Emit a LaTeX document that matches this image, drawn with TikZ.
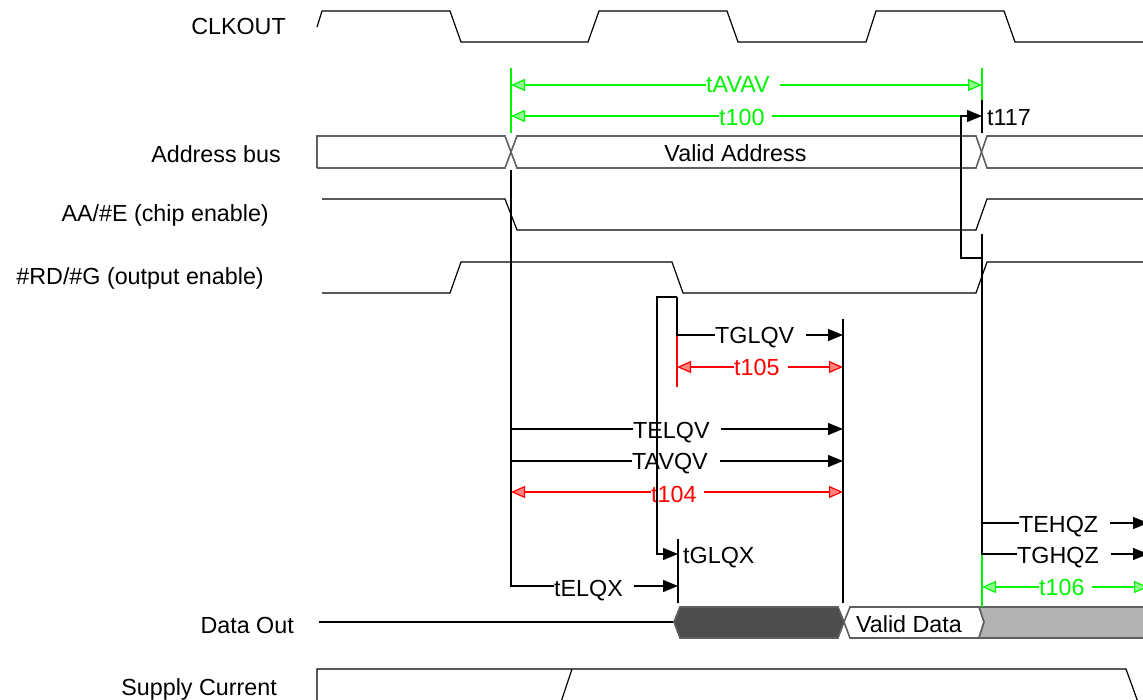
\documentclass[tikz,border=0pt]{standalone}
\usepackage{fontspec}
\setmainfont{Liberation Sans}
\usetikzlibrary{arrows.meta}
\definecolor{lgreen}{RGB}{0,245,0}
\definecolor{lgfill}{RGB}{140,255,140}
\definecolor{lred}{RGB}{255,0,0}
\definecolor{lrfill}{RGB}{255,130,130}
\definecolor{darkbus}{RGB}{77,77,77}
\definecolor{lightbus}{RGB}{179,179,179}
\definecolor{busline}{RGB}{95,95,95}
\begin{document}
\begin{tikzpicture}[x=1pt,y=-1pt,
  font=\fontsize{23.3}{28}\selectfont,
  sig/.style={line width=1.2pt, black},
  busedge/.style={line width=1.6pt, busline},
  barr/.style={line width=1.2pt, black, -{Triangle[length=15pt,width=12pt]}},
  gdim/.style={line width=1.2pt, lgreen, {Triangle[length=14pt,width=12pt,fill=lgfill]}-{Triangle[length=14pt,width=12pt,fill=lgfill]}},
  gleft/.style={line width=1.2pt, lgreen, {Triangle[length=14pt,width=12pt,fill=lgfill]}-},
  rdim/.style={line width=1.2pt, lred, {Triangle[length=14pt,width=12pt,fill=lrfill]}-{Triangle[length=14pt,width=12pt,fill=lrfill]}},
  gext/.style={line width=1.2pt, lgreen},
  rext/.style={line width=1.2pt, lred},
  bext/.style={line width=1.2pt, black},
  lbl/.style={fill=white, inner xsep=0pt, inner ysep=1pt, anchor=base west},
  signame/.style={anchor=base east, inner sep=0pt}]
\useasboundingbox (0,0) rectangle (1143,700);
\clip (0,0) rectangle (1143,700);

% ---------- signal names ----------
\node[signame] (nclk) at (286,35) {CLKOUT};
\node[signame] (naddr) at (281,163) {Address bus};
\node[signame] (nce) at (269,222) {AA/\#E (chip enable)};
\node[signame] (noe) at (264,285) {\#RD/\#G (output enable)};
\node[signame] (ndata) at (294,633) {Data Out};
\node[signame] (nsup) at (277,695) {Supply Current};

% ---------- waveforms ----------
\draw[sig] (317,27)--(322,11)--(450,11)--(461,42)--(588,42)--(599,11)--(727,11)--(738,42)--(866,42)--(876,11)--(1004,11)--(1015,42)--(1150,42);
% address bus
\draw[busedge] (317,168)--(317,136)--(505,136)--(517,168)--(976,168)--(987,136)--(1150,136);
\draw[busedge] (317,168)--(505,168)--(517,136)--(976,136)--(987,168)--(1150,168);
\node[anchor=base, inner sep=0pt] (vaddr) at (735.5,162) {Valid Address};
% chip enable
\draw[sig] (322,199)--(505,199)--(517,230)--(976,230)--(987,199)--(1150,199);
% output enable
\draw[sig] (322,293)--(450,293)--(461,262)--(672,262)--(683,293)--(976,293)--(987,262)--(1150,262);
% data out
\draw[sig] (319,622)--(674,622);
\draw[busedge, fill=darkbus] (674,622)--(680,607)--(838,607)--(844,622)--(838,638)--(680,638)--cycle;
\draw[busedge, fill=white] (844,622)--(850,607)--(979,607)--(984,622)--(979,638)--(850,638)--cycle;
\draw[busedge, fill=lightbus] (979,607)--(1150,607)--(1150,638)--(979,638)--(984,622)--cycle;
\node[anchor=base, inner sep=0pt] (vdata) at (909,632) {Valid Data};
% supply current
\draw[sig] (317,705)--(317,669)--(1126,669)--(1139,705);
\draw[sig] (560,705)--(572,669);

% ---------- named timing coordinates ----------
\coordinate (aL1) at (511,85);  \coordinate (aR1) at (982,85);
\coordinate (aL2) at (511,116); \coordinate (tA) at (961,116);
\coordinate (tB) at (982,116);  \coordinate (tC) at (961,258);
\coordinate (tD) at (982,258);
\coordinate (gA) at (677,297);  \coordinate (gB) at (657,297);
\coordinate (gC) at (677,335);  \coordinate (gD) at (843,335);
\coordinate (gE) at (657,554);  \coordinate (gF) at (678,554);
\coordinate (r1L) at (677,367); \coordinate (r1R) at (843,367);
\coordinate (eA) at (511,429);  \coordinate (eB) at (843,429);
\coordinate (vA) at (511,461);  \coordinate (vB) at (843,461);
\coordinate (r2L) at (511,492); \coordinate (r2R) at (843,492);
\coordinate (xTop) at (511,170); \coordinate (xBot) at (511,586);
\coordinate (xEnd) at (678,586);
\coordinate (hA) at (982,523);  \coordinate (hB) at (1148,523);
\coordinate (hC) at (982,554);  \coordinate (hD) at (1148,554);
\coordinate (hE) at (982,587);  \coordinate (hF) at (1148,587);

% ---------- horizontal timing arrows ----------
\draw[gdim] (aL1) -- (aR1);
\draw[gleft] (aL2) -- (tA);
\draw[barr] (tD) -- (tC) -- (tA) -- (tB);
\draw[barr] (gA) -- (gC) -- (gD);
\draw[barr] (gA) -- (gB) -- (gE) -- (gF);
\draw[rdim] (r1L) -- (r1R);
\draw[barr] (eA) -- (eB);
\draw[barr] (vA) -- (vB);
\draw[rdim] (r2L) -- (r2R);
\draw[barr] (xTop) -- (xBot) -- (xEnd);
\draw[barr] (hA) -- (hB);
\draw[barr] (hC) -- (hD);
\draw[gdim] (hE) -- (hF);

% ---------- labels ----------
\node[lbl, text=lgreen] (ltavav) at (706,93) {tAVAV\kern10pt};
\node[lbl, text=lgreen] (lt100) at (719,126) {t100\kern7pt};
\node[lbl] (lt117) at (987,126) {t117};
\node[lbl] (ltglqv) at (715,344) {TGLQV\kern12pt};
\node[lbl, text=lred] (lt105) at (734,376) {t105\kern8pt};
\node[lbl] (ltelqv) at (633,438) {TELQV\kern11pt};
\node[lbl] (ltavqv) at (632,469) {TAVQV\kern12pt};
\node[lbl, text=lred] (lt104) at (651,502) {t104\kern7pt};
\node[lbl] (ltglqx) at (683,563) {tGLQX};
\node[lbl] (ltelqx) at (554,596) {tELQX\kern11pt};
\node[lbl] (ltehqz) at (1019,532) {TEHQZ\kern12pt};
\node[lbl] (ltghqz) at (1017,563) {TGHQZ\kern12pt};
\node[lbl, text=lgreen] (lt106) at (1039,595) {t106\kern7pt};

% ---------- vertical reference lines ----------
\draw[gext] (511,68) -- (511,133);
\draw[gext] (982,68) -- (982,133);
\draw[bext] (982,100) -- (982,133);
\draw[bext] (511,170) -- (511,586);
\draw[bext] (657,297) -- (657,554);
\draw[rext] (677,336) -- (677,387);
\draw[bext] (843,319) -- (843,603);
\draw[bext] (678,539) -- (678,603);
\draw[bext] (982,234) -- (982,555);
\draw[gext] (982,555) -- (982,607);
\end{tikzpicture}
\end{document}
